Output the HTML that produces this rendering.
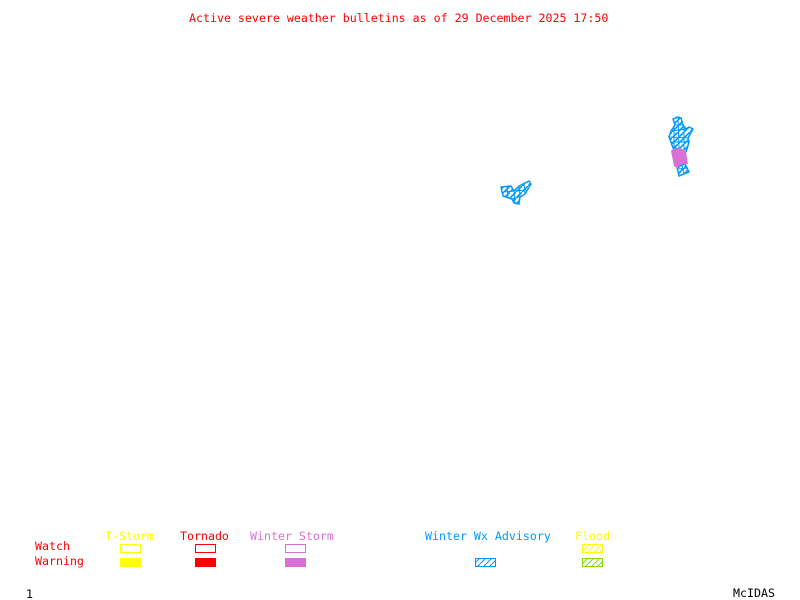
<!DOCTYPE html>
<html><head><meta charset="utf-8"><style>
html,body{margin:0;padding:0;background:#fff}
svg{display:block}
text{font-family:"DejaVu Sans Mono","Liberation Mono",monospace;font-size:11.62px;white-space:pre}
</style></head><body>
<svg width="800" height="600" viewBox="0 0 800 600" xmlns="http://www.w3.org/2000/svg">
<defs>
<pattern id="hb" width="6" height="6" patternUnits="userSpaceOnUse"><path d="M-1 7L7 -1" stroke="#0099ff" stroke-width="1.1"/></pattern>
<pattern id="hy" width="6" height="6" patternUnits="userSpaceOnUse"><path d="M-1 7L7 -1" stroke="#ffff00" stroke-width="1.1"/></pattern>
<pattern id="hg" width="6" height="6" patternUnits="userSpaceOnUse"><path d="M-1 7L7 -1" stroke="#7fdd00" stroke-width="1.1"/></pattern>
<pattern id="hw" width="6" height="6" patternUnits="userSpaceOnUse"><path d="M-1 7L7 -1" stroke="#0099ff" stroke-width="1.6"/></pattern>
</defs>
<text x="189" y="22" fill="#ff0000">Active severe weather bulletins as of 29 December 2025 17:50</text>
<path d="M678 117L673 119L675 125L671 131L669 137L671 142L673 148L680 149L686 152L689 142L688 138L693 129L689 127L686 129L683 125L681 118Z" fill="url(#hw)" stroke="#0099ff" stroke-width="1.5" stroke-linejoin="round"/>
<path d="M675 125L683 125M671 131L686 129M669 137L688 138M671 142L689 142M678 117L679 148M684 126L684 150M674 125L674 148" fill="none" stroke="#0099ff" stroke-width="1"/>
<path d="M677 167L679 176L689 172L685 164Z" fill="url(#hw)" stroke="#0099ff" stroke-width="1.5"/>
<path d="M677 169L688 168M682 165L684 174" fill="none" stroke="#0099ff" stroke-width="1"/>
<path d="M671 151L673 149L680 148L686 151L687 159L688 164L682 164L677 168L674 166Z" fill="#da70d6"/>
<path d="M501 187L511 186L514 191L519 186L529 181L531 184L525 194L520 197L519 204L514 203L512 199L503 196Z" fill="url(#hw)" stroke="#0099ff" stroke-width="1.5" stroke-linejoin="round"/>
<path d="M507 186L508 198M514 191L515 203M519 186L520 197M524 184L525 194M503 192L526 190M512 199L522 196" fill="none" stroke="#0099ff" stroke-width="1"/>
<text x="105" y="540" fill="#ffff00">T-Storm</text>
<text x="180" y="540" fill="#ff0000">Tornado</text>
<text x="250" y="540" fill="#da70d6">Winter Storm</text>
<text x="425" y="540" fill="#0099ff">Winter Wx Advisory</text>
<text x="575" y="540" fill="#ffff00">Flood</text>
<text x="35" y="550" fill="#ff0000">Watch</text>
<text x="35" y="565" fill="#ff0000">Warning</text>
<g shape-rendering="crispEdges">
<rect x="120.5" y="544.5" width="20" height="8" fill="none" stroke="#ffff00"/>
<rect x="195.5" y="544.5" width="20" height="8" fill="none" stroke="#ff0000"/>
<rect x="285.5" y="544.5" width="20" height="8" fill="none" stroke="#da70d6"/>
<rect x="120" y="558" width="21" height="9" fill="#ffff00"/>
<rect x="195" y="558" width="21" height="9" fill="#ff0000"/>
<rect x="285" y="558" width="21" height="9" fill="#da70d6"/>
</g>
<rect x="475.5" y="558.5" width="20" height="8" fill="url(#hb)" stroke="#0099ff"/>
<rect x="582.5" y="544.5" width="20" height="8" fill="url(#hy)" stroke="#ffff00"/>
<rect x="582.5" y="558.5" width="20" height="8" fill="url(#hg)" stroke="#7fdd00"/>
<text x="26" y="598" fill="#000000">1</text>
<text x="733" y="597" fill="#000000">McIDAS</text>
</svg>
</body></html>
